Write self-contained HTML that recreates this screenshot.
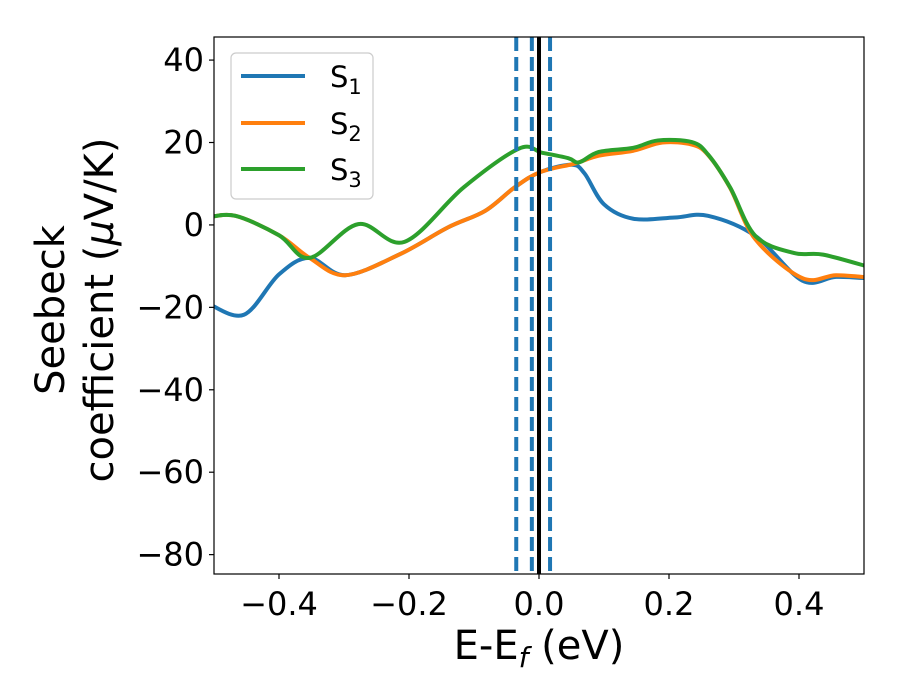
<!DOCTYPE html>
<html><head><meta charset="utf-8"><style>
body{margin:0;background:#fff;}
svg{display:block;font-family:"DejaVu Sans","Liberation Sans",sans-serif;}
</style></head><body>
<svg id="chart" width="900" height="700" viewBox="0 0 900 700">
<defs><clipPath id="pc"><rect x="214" y="37" width="650" height="537"/></clipPath></defs>
<g id="marks" clip-path="url(#pc)"></g>
<rect x="214" y="37" width="650" height="537" fill="none" stroke="#000" stroke-width="1.2"/>
<g id="axes"></g>
<text x="0" y="0" transform="translate(64,310) rotate(-90)" text-anchor="middle" font-size="40"><tspan x="0" dy="0">Seebeck</tspan><tspan x="0" dy="49">coefficient  (<tspan font-style="italic">μ</tspan>V/K)</tspan></text>
<text x="539" y="659" text-anchor="middle" font-size="40">E-E<tspan font-size="28" dy="8" font-style="italic">f</tspan><tspan dy="-8"> (eV)</tspan></text>
<g>
<rect x="231" y="53" width="142" height="146" rx="5" fill="#fff" fill-opacity="0.8" stroke="#ccc" stroke-width="1.2"/>
<line x1="241" y1="76" x2="305" y2="76" stroke="#1f77b4" stroke-width="4"/>
<text x="330" y="87" font-size="29">S<tspan font-size="21" dy="7">1</tspan></text>
<line x1="241" y1="123" x2="305" y2="123" stroke="#ff7f0e" stroke-width="4"/>
<text x="330" y="134" font-size="29">S<tspan font-size="21" dy="7">2</tspan></text>
<line x1="241" y1="169" x2="305" y2="169" stroke="#2ca02c" stroke-width="4"/>
<text x="330" y="180" font-size="29">S<tspan font-size="21" dy="7">3</tspan></text>
</g>
</svg>
<script>
const xTicks=[-0.4,-0.2,0.0,0.2,0.4];
const xTickLabels=["−0.4","−0.2","0.0","0.2","0.4"];
const yTicks=[40,20,0,-20,-40,-60,-80];
const yTickLabels=["40","20","0","−20","−40","−60","−80"];
const s1E=[-0.51,-0.454,-0.40,-0.353,-0.298,-0.214,-0.14,-0.083,-0.0375,0.0015,0.05,0.07,0.10,0.145,0.209,0.26,0.333,0.405,0.457,0.51];
const s1V=[-19,-21.8,-12,-8,-12.2,-7.1,-0.6,3.4,9.1,12.8,14.6,12.5,5,1.5,1.8,2.2,-2.7,-13.5,-12.6,-13];
const s2E=[-0.51,-0.467,-0.40,-0.353,-0.298,-0.214,-0.14,-0.083,-0.0375,0.0015,0.055,0.092,0.145,0.19,0.235,0.26,0.294,0.333,0.405,0.457,0.51];
const s2V=[1.8,2.2,-2.5,-8,-12.2,-7.1,-0.6,3.4,9.1,12.8,14.9,16.8,18,20,19.5,17,9,-3.5,-12.9,-12.2,-12.8];
const s3E=[-0.51,-0.467,-0.40,-0.353,-0.278,-0.207,-0.116,-0.031,0.005,0.045,0.062,0.092,0.145,0.183,0.235,0.26,0.294,0.333,0.392,0.437,0.51];
const s3V=[1.8,2.2,-2.5,-8,0.2,-4.1,9.1,18.5,17.5,16.2,15.2,17.7,18.7,20.5,20.1,17.1,9.1,-2.7,-6.8,-7.2,-10.3];
const vLinesDashed=[-0.035,-0.011,0.017];
const vLineSolid=[0.0];
const xMin=-0.5,xMax=0.5,yMin=-84.7,yMax=45.6;
const L=214,R=864,T=37,B=574;
const xs=v=>L+(v-xMin)/(xMax-xMin)*(R-L);
const ys=v=>B-(v-yMin)/(yMax-yMin)*(B-T);
const NS="http://www.w3.org/2000/svg";
const marks=document.getElementById('marks'),axes=document.getElementById('axes');
function mk(t,a,p){const e=document.createElementNS(NS,t);for(const k in a)e.setAttribute(k,a[k]);p.appendChild(e);return e;}
function smooth(E,V){const P=E.map((e,i)=>[xs(e),ys(V[i])]);let d=`M${P[0][0]},${P[0][1]}`;
for(let i=0;i<P.length-1;i++){const p0=P[Math.max(0,i-1)],p1=P[i],p2=P[i+1],p3=P[Math.min(P.length-1,i+2)];
d+=` C${p1[0]+(p2[0]-p0[0])/6},${p1[1]+(p2[1]-p0[1])/6} ${p2[0]-(p3[0]-p1[0])/6},${p2[1]-(p3[1]-p1[1])/6} ${p2[0]},${p2[1]}`;}return d;}
const series=[[s1E,s1V,'#1f77b4','series-s1'],[s2E,s2V,'#ff7f0e','series-s2'],[s3E,s3V,'#2ca02c','series-s3']];
series.forEach(s=>{const p=mk('path',{d:smooth(s[0],s[1]),fill:'none',stroke:s[2],'stroke-width':4,'stroke-linejoin':'round'},marks);

});
vLinesDashed.forEach((v,i)=>{const l=mk('line',{x1:xs(v),x2:xs(v),y1:T,y2:B,stroke:'#1f77b4','stroke-width':4,'stroke-dasharray':'14,6'},marks);

});
vLineSolid.forEach(v=>{const l=mk('line',{x1:xs(v),x2:xs(v),y1:T,y2:B,stroke:'#000','stroke-width':4},marks);

});
xTicks.forEach((v,i)=>{mk('line',{x1:xs(v),x2:xs(v),y1:B,y2:B+5,stroke:'#000','stroke-width':1.2},axes);
const t=mk('text',{x:xs(v),y:B+41,'text-anchor':'middle','font-size':32},axes);t.textContent=xTickLabels[i];

});
yTicks.forEach((v,i)=>{mk('line',{x1:L-5,x2:L,y1:ys(v),y2:ys(v),stroke:'#000','stroke-width':1.2},axes);
const t=mk('text',{x:L-10,y:ys(v)+11,'text-anchor':'end','font-size':32},axes);t.textContent=yTickLabels[i];

});
</script>
</body></html>
